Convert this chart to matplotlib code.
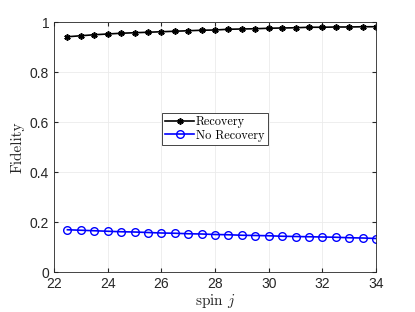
import matplotlib
matplotlib.use("Agg")
import matplotlib.pyplot as plt

# spin values and fidelities
spin = [22.5 + 0.5 * i for i in range(24)]
recovery = [0.941, 0.945, 0.949, 0.952, 0.955, 0.957, 0.959, 0.961, 0.963,
            0.965, 0.967, 0.968, 0.971, 0.972, 0.973, 0.975, 0.976, 0.977,
            0.979, 0.979, 0.980, 0.980, 0.981, 0.981]
no_recovery = [0.169, 0.167, 0.165, 0.163, 0.161, 0.160, 0.158, 0.156, 0.155,
               0.153, 0.152, 0.150, 0.149, 0.147, 0.146, 0.145, 0.143, 0.142,
               0.141, 0.140, 0.139, 0.137, 0.136, 0.134]
xticks = [22, 24, 26, 28, 30, 32, 34]
yticks = [0, 0.2, 0.4, 0.6, 0.8, 1]
ytick_labels = ['0', '0.2', '0.4', '0.6', '0.8', '1']

plt.rcParams['font.family'] = ['Liberation Sans', 'DejaVu Sans']
plt.rcParams['mathtext.fontset'] = 'cm'

fig = plt.figure(figsize=(4.15, 3.12), dpi=100)
ax = fig.add_axes([54 / 415, 40 / 312, 322 / 415, 250 / 312])

ax.plot(spin, recovery, color='black', lw=1.2, marker=(6, 2, 0), ms=4.5,
        mew=1.2, label='Recovery')
ax.plot(spin, no_recovery, color='blue', lw=1.2, marker='o', ms=5.5,
        mfc='none', mew=1.0, label='No Recovery')

ax.set_xlim(22, 34)
ax.set_ylim(0, 1)
ax.set_xticks(xticks)
ax.set_yticks(yticks)
ax.set_yticklabels(ytick_labels)
ax.tick_params(direction='in', length=3, labelsize=10, colors='#262626',
               top=True, right=True, labeltop=False, labelright=False)
for s in ax.spines.values():
    s.set_color('#262626')
    s.set_linewidth(0.6)
ax.grid(True, color='#ebebeb', lw=0.6)
ax.set_axisbelow(True)

ax.set_xlabel(r'spin $j$', fontfamily='cmr10', fontsize=11, color='#262626',
              labelpad=1)
ax.set_ylabel('Fidelity', fontfamily='cmr10', fontsize=11, color='#262626')

leg = ax.legend(loc='center', bbox_to_anchor=(0.5, 0.572), fancybox=False,
                framealpha=1, edgecolor='#262626', borderpad=0.3,
                handlelength=2.3, handletextpad=0.2, labelspacing=0.1,
                prop={'family': 'cmr10', 'size': 8.8})
leg.get_frame().set_linewidth(0.6)

fig.savefig('out.png', dpi=100)
